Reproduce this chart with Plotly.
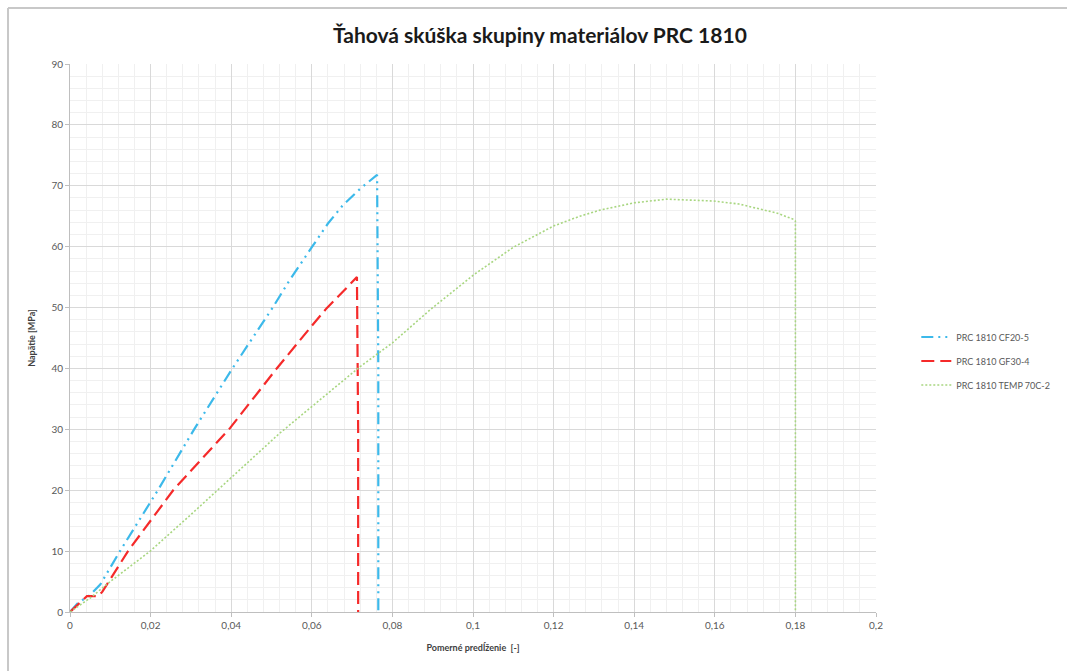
import plotly.graph_objects as go

# Tensile test curves: strain [-] vs stress [MPa]
cf_strain = [0, 0.002, 0.005, 0.0075, 0.0124, 0.0218, 0.0308, 0.0403, 0.0503, 0.0545, 0.0601, 0.0640, 0.0677, 0.0720, 0.0762, 0.0765, 0.0765]
cf_stress = [0, 1.5, 2.8, 4.5, 10, 20, 30, 40, 50, 54.5, 60, 63.8, 66.8, 69.5, 71.8, 40, 0]

gf_strain = [0, 0.002, 0.0042, 0.007, 0.008, 0.0144, 0.0256, 0.0397, 0.0513, 0.0600, 0.0637, 0.0680, 0.0712, 0.0715, 0.0715]
gf_stress = [0, 1.3, 2.6, 2.6, 3.3, 10, 20, 30.2, 40, 47, 49.9, 52.8, 55, 30, 0]

tp_strain = [0, 0.005, 0.010, 0.0199, 0.030, 0.040, 0.0521, 0.0645, 0.072, 0.080, 0.090, 0.100, 0.110, 0.120, 0.1265, 0.1315, 0.140, 0.148, 0.1596, 0.166, 0.1712, 0.1755, 0.1795, 0.180, 0.180]
tp_stress = [0, 2.3, 5.0, 10, 16, 22, 29.4, 36.2, 40.3, 44.2, 50.0, 55.3, 59.9, 63.4, 65.0, 66.0, 67.2, 67.8, 67.5, 67.0, 66.2, 65.5, 64.5, 64.2, 0]

series_names = ["PRC 1810 CF20-5", "PRC 1810 GF30-4", "PRC 1810 TEMP 70C-2"]

x_ticks = [0, 0.02, 0.04, 0.06, 0.08, 0.1, 0.12, 0.14, 0.16, 0.18, 0.2]
x_tick_labels = ["0", "0,02", "0,04", "0,06", "0,08", "0,1", "0,12", "0,14", "0,16", "0,18", "0,2"]
y_ticks = [0, 10, 20, 30, 40, 50, 60, 70, 80, 90]

font_family = "Lato, 'Open Sans', sans-serif"

fig = go.Figure()
fig.add_trace(go.Scatter(x=cf_strain, y=cf_stress, mode="lines", name=series_names[0], legendgroup="a",
                         line=dict(color="#3cb9ea", width=2.2, dash="12px,5px,2px,5px,2px,5px")))
fig.add_trace(go.Scatter(x=gf_strain, y=gf_stress, mode="lines", name=series_names[1], legendgroup="b",
                         line=dict(color="#f52a2a", width=2.2, dash="13px,6px")))
fig.add_trace(go.Scatter(x=tp_strain, y=tp_stress, mode="lines", name=series_names[2], legendgroup="c",
                         line=dict(color="#a8d680", width=1.6, dash="2px,2px")))

fig.update_layout(
    width=1067, height=671,
    margin=dict(l=70, r=191, t=64, b=59),
    paper_bgcolor="white", plot_bgcolor="white",
    font=dict(family=font_family, color="#595959", size=10),
    title=dict(text="<b>Ťahová skúška skupiny materiálov PRC 1810</b>",
               x=0.506, xanchor="center", y=0.947, yanchor="middle",
               font=dict(size=21, color="#1a1a1a", family=font_family)),
    showlegend=True,
    legend=dict(x=1.05, y=0.458, xanchor="left", yanchor="middle",
                font=dict(size=9, color="#595959"), itemwidth=30,
                tracegroupgap=5, bgcolor="rgba(0,0,0,0)"),
    xaxis=dict(range=[0, 0.2], tickvals=x_ticks, ticktext=x_tick_labels,
               showgrid=True, gridcolor="#d9d9d9", gridwidth=1.2,
               minor=dict(dtick=0.004, showgrid=True, gridcolor="#f0f0f0", gridwidth=1),
               showline=True, linecolor="#bfbfbf", linewidth=1,
               ticks="outside", ticklen=4, tickcolor="#bfbfbf",
               zeroline=False,
               title=dict(text="<b>Pomerné predĺženie  [-]</b>", font=dict(size=9, color="#404040"),
                          standoff=14)),
    yaxis=dict(range=[0, 90], tickvals=y_ticks,
               showgrid=True, gridcolor="#d9d9d9", gridwidth=1.2,
               minor=dict(dtick=2, showgrid=True, gridcolor="#f0f0f0", gridwidth=1),
               showline=True, linecolor="#bfbfbf", linewidth=1,
               ticks="outside", ticklen=4, tickcolor="#bfbfbf",
               zeroline=False,
               title=dict(text="<b>Napätie [MPa]</b>", font=dict(size=9, color="#404040"),
                          standoff=14)),
)

# Outer chart frame (left and top edges)
fig.add_shape(type="line", xref="paper", yref="paper", x0=-0.0769, x1=-0.0769, y0=-0.2, y1=1.102,
              line=dict(color="#c8c8c8", width=2))
fig.add_shape(type="line", xref="paper", yref="paper", x0=-0.0769, x1=1.3, y0=1.102, y1=1.102,
              line=dict(color="#c8c8c8", width=2))

fig.write_html("out.html")
